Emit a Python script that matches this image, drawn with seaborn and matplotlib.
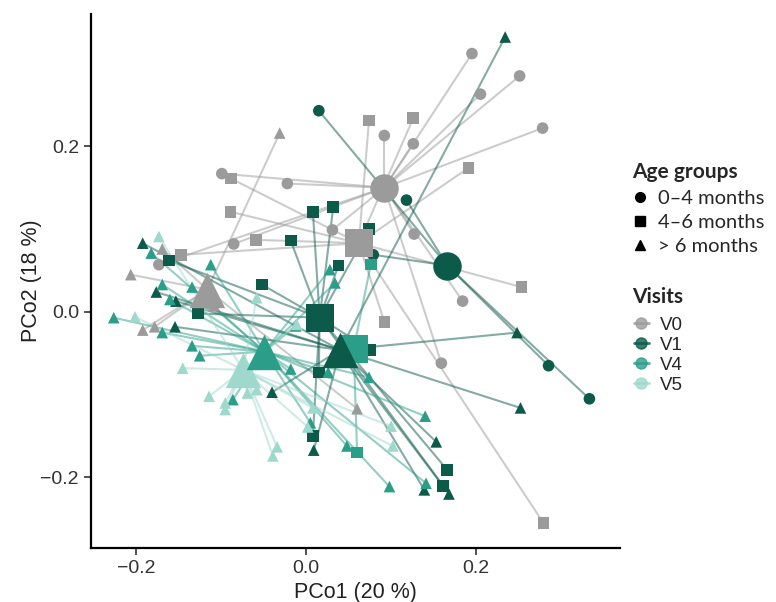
import matplotlib
matplotlib.use("Agg")
import matplotlib.pyplot as plt
from matplotlib.collections import LineCollection
from matplotlib.lines import Line2D
import pandas as pd
import seaborn as sns

# sample coordinates per visit (PCo1, PCo2) and age group
V0_X = [0.195, 0.251, 0.205, 0.278, 0.092, 0.126, -0.099, -0.022, 0.031, 0.127, 0.184, -0.085, -0.173, 0.159,
        0.074, 0.126, 0.191, -0.088, -0.089, -0.059, -0.147, 0.253, 0.092, 0.279,
        -0.031, -0.169, -0.206, -0.192, -0.178, -0.108, 0.060]
V0_Y = [0.312, 0.285, 0.263, 0.222, 0.213, 0.203, 0.167, 0.155, 0.099, 0.094, 0.013, 0.082, 0.057, -0.062,
        0.231, 0.234, 0.174, 0.161, 0.121, 0.087, 0.069, 0.030, -0.012, -0.255,
        0.216, 0.076, 0.045, -0.022, -0.018, 0.008, -0.117]
V0_AGE = ["0–4 months"] * 14 + ["4–6 months"] * 10 + ["> 6 months"] * 7

V1_X = [0.015, 0.118, 0.079, 0.285, 0.333,
        0.008, 0.032, -0.018, -0.052, -0.127, -0.161, 0.038, 0.074, 0.075, 0.015, 0.008, 0.166, 0.161,
        0.234, 0.248, 0.252, 0.153, 0.139, 0.168, -0.192, -0.176, -0.153, -0.154, -0.040, 0.009]
V1_Y = [0.243, 0.135, 0.069, -0.065, -0.105,
        0.121, 0.127, 0.086, 0.033, -0.002, 0.062, 0.056, 0.100, -0.046, -0.073, -0.150, -0.191, -0.210,
        0.332, -0.025, -0.116, -0.157, -0.215, -0.220, 0.083, 0.024, 0.013, -0.018, -0.097, -0.167]
V1_AGE = ["0–4 months"] * 5 + ["4–6 months"] * 13 + ["> 6 months"] * 12

V4_X = [0.076, 0.060,
        -0.112, -0.169, -0.134, -0.160, -0.226, -0.169, 0.028, 0.034, -0.134, -0.125, -0.018, -0.086,
        0.005, 0.074, 0.140, 0.048, 0.098, 0.141, 0.026, -0.182, -0.012]
V4_Y = [0.057, -0.170,
        0.057, 0.033, 0.030, 0.015, -0.007, -0.025, 0.051, 0.035, -0.041, -0.053, -0.069, -0.106,
        -0.134, -0.079, -0.126, -0.162, -0.211, -0.207, -0.073, 0.071, -0.017]
V4_AGE = ["4–6 months"] * 2 + ["> 6 months"] * 21

V5_X = [-0.173, -0.201, -0.058, -0.011, -0.145, -0.114, -0.095, -0.095, -0.069, -0.058, 0.002, -0.034,
        -0.039, 0.100, 0.102, 0.008]
V5_Y = [0.091, -0.006, 0.017, -0.015, -0.068, -0.102, -0.110, -0.118, -0.098, -0.094, -0.139, -0.163,
        -0.174, -0.138, -0.162, -0.116]
V5_AGE = ["> 6 months"] * 16

# group centroids (visit x age group), listed in drawing order
CENT_VISIT = ["V0", "V0", "V0", "V5", "V4", "V1", "V1", "V1", "V4"]
CENT_AGE = ["0–4 months", "4–6 months", "> 6 months", "> 6 months", "4–6 months",
            "0–4 months", "4–6 months", "> 6 months", "> 6 months"]
CENT_X = [0.092, 0.062, -0.116, -0.074, 0.056, 0.166, 0.016, 0.040, -0.049]
CENT_Y = [0.150, 0.083, 0.027, -0.070, -0.045, 0.056, -0.007, -0.046, -0.048]

VISITS = ["V0", "V1", "V4", "V5"]
AGES = ["0–4 months", "4–6 months", "> 6 months"]
palette = {"V0": "#9b9b9b", "V1": "#0c5a4a", "V4": "#2b9e8a", "V5": "#9fd8cc"}
markers = {"0–4 months": "o", "4–6 months": "s", "> 6 months": "^"}

frames = []
for v, xs, ys, ages in [("V0", V0_X, V0_Y, V0_AGE), ("V1", V1_X, V1_Y, V1_AGE),
                        ("V4", V4_X, V4_Y, V4_AGE), ("V5", V5_X, V5_Y, V5_AGE)]:
    frames.append(pd.DataFrame({"x": xs, "y": ys, "age": ages, "visit": v}))
df = pd.concat(frames, ignore_index=True)
cent = pd.DataFrame({"visit": CENT_VISIT, "age": CENT_AGE, "cx": CENT_X, "cy": CENT_Y})
df = df.merge(cent, on=["visit", "age"], how="left")

sns.set_style("white")
plt.rcParams['font.family'] = ['Liberation Sans', 'DejaVu Sans']

fig = plt.figure(figsize=(7.76, 6.02), dpi=100)
ax = fig.add_axes([0.117, 0.09, 0.682, 0.887])

# spider lines from each sample to its group centroid
for v in VISITS:
    sub = df[df.visit == v]
    segs = [[(r.x, r.y), (r.cx, r.cy)] for r in sub.itertuples()]
    lc = LineCollection(segs, colors=palette[v], linewidths=1.5, alpha=0.5, zorder=1)
    ax.add_collection(lc)

sns.scatterplot(data=df, x="x", y="y", hue="visit", style="age", palette=palette,
                markers=markers, hue_order=VISITS, style_order=AGES, s=70,
                linewidth=0, legend=False, ax=ax, zorder=2)

# centroids
for r in cent.itertuples():
    size = 650 if r.age == "> 6 months" else 420
    ax.scatter(r.cx, r.cy, s=size, marker=markers[r.age], color=palette[r.visit],
               linewidth=0, zorder=3)

ax.set_xlim(-0.253, 0.369)
ax.set_ylim(-0.285, 0.360)
ax.set_xticks([-0.2, 0.0, 0.2])
ax.set_yticks([-0.2, 0.0, 0.2])
ax.set_xticklabels(["−0.2", "0.0", "0.2"])
ax.set_yticklabels(["−0.2", "0.0", "0.2"])
ax.tick_params(axis="both", labelsize=14, length=5, width=1.2, color="#333333",
               labelcolor="#333333", direction="out", left=True, bottom=True)
ax.set_xlabel("PCo1 (20 %)", fontsize=15.5, color="#222222", labelpad=4)
ax.set_ylabel("PCo2 (18 %)", fontsize=15.5, color="#222222", labelpad=-1)
for side in ["top", "right"]:
    ax.spines[side].set_visible(False)
for side in ["left", "bottom"]:
    ax.spines[side].set_color("black")
    ax.spines[side].set_linewidth(1.6)

# legends
fig.text(0.814, 0.714, "Age groups", family="Lato", weight="bold", fontsize=15, va="center")
age_handles = [Line2D([0], [0], marker=markers[a], color="black", linestyle="none", markersize=7)
               for a in AGES]
fig.legend(age_handles, AGES, loc="upper left", bbox_to_anchor=(0.815, 0.685), frameon=False,
           prop={"family": "Lato", "size": 14.5}, borderaxespad=0,
           handlelength=0.8, handletextpad=0.45, labelspacing=0.35, borderpad=0)

fig.text(0.814, 0.507, "Visits", family="Lato", weight="bold", fontsize=15, va="center")
visit_handles = [Line2D([0], [0], marker="o", color=palette[v], markersize=8, linewidth=2, alpha=0.8)
                 for v in VISITS]
fig.legend(visit_handles, VISITS, loc="upper left", bbox_to_anchor=(0.817, 0.474), frameon=False,
           prop={"family": "Liberation Sans", "size": 13.5}, borderaxespad=0,
           handlelength=0.8, handletextpad=0.6, labelspacing=0.15, borderpad=0)

fig.savefig("out.png", dpi=100)
